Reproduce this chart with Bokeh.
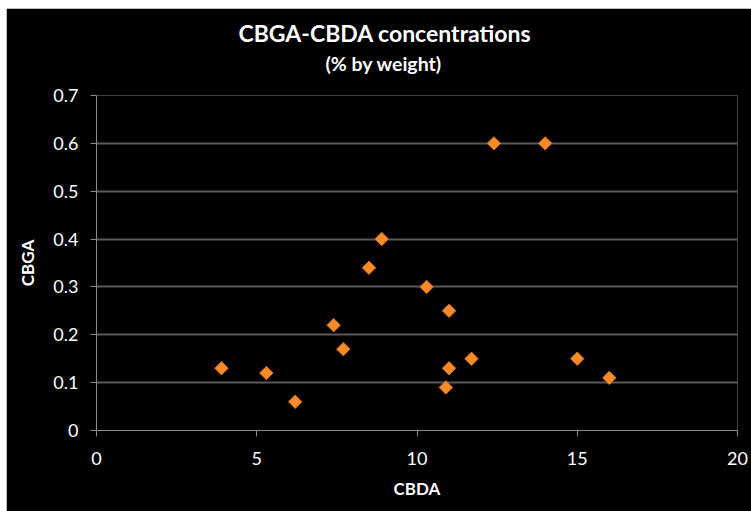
from bokeh.plotting import figure
from bokeh.models import FixedTicker, Title, Range1d
from bokeh.embed import file_html
from bokeh.resources import INLINE

cbda = [3.9, 5.3, 6.2, 7.4, 7.7, 8.5, 8.9, 10.3, 10.9, 11.0, 11.0, 11.7, 12.4, 14.0, 15.0, 16.0]
cbga = [0.13, 0.12, 0.06, 0.22, 0.17, 0.34, 0.40, 0.30, 0.09, 0.13, 0.25, 0.15, 0.60, 0.60, 0.15, 0.11]
x_ticks = [0, 5, 10, 15, 20]
y_ticks = [0, 0.1, 0.2, 0.3, 0.4, 0.5, 0.6, 0.7]

FONT = "Lato"

p = figure(width=745, height=503, output_backend="svg", toolbar_location=None,
           x_range=Range1d(0, 20), y_range=Range1d(0, 0.7),
           background_fill_color="black", border_fill_color="black",
           min_border_left=90, min_border_right=14, min_border_top=87, min_border_bottom=81,
           outline_line_color=None, title=None)
p.margin = (8, 0, 0, 6)

p.scatter(cbda, cbga, marker="square", angle=0.785398, size=9.5, fill_color="#F68B2C",
          line_color="#D9700F", line_width=1)

p.xgrid.grid_line_color = None
p.ygrid.grid_line_color = "#5a5a5a"
p.ygrid.grid_line_width = 2

for ax in (p.xaxis[0], p.yaxis[0]):
    ax.axis_line_color = "#8a8a8a"
    ax.major_tick_line_color = "#8a8a8a"
    ax.minor_tick_line_color = None
    ax.major_tick_in = 0
    ax.major_tick_out = 6
    ax.major_label_text_color = "white"
    ax.major_label_text_font = FONT
    ax.major_label_text_font_size = "18px"
    ax.axis_label_text_color = "white"
    ax.axis_label_text_font = FONT
    ax.axis_label_text_font_style = "bold"
    ax.axis_label_text_font_size = "17px"

p.xaxis.ticker = FixedTicker(ticks=x_ticks)
p.yaxis.ticker = FixedTicker(ticks=y_ticks)
p.yaxis.major_label_overrides = {0: "0"}
p.xaxis.axis_label = "CBDA"
p.yaxis.axis_label = "CBGA"
p.xaxis.major_label_standoff = 15
p.yaxis.major_label_standoff = 12
p.xaxis.axis_label_standoff = 10
p.yaxis.axis_label_standoff = 12

sub = Title(text="(% by weight)", align="left", offset=229, text_color="white",
            text_font=FONT, text_font_style="bold", text_font_size="19.5px", standoff=42)
main = Title(text="CBGA-CBDA concentrations", align="left", offset=142, text_color="white",
             text_font=FONT, text_font_style="bold", text_font_size="23px", standoff=-36)
p.add_layout(sub, "above")
p.add_layout(main, "above")

open("out.html", "w").write(file_html(p, INLINE))
